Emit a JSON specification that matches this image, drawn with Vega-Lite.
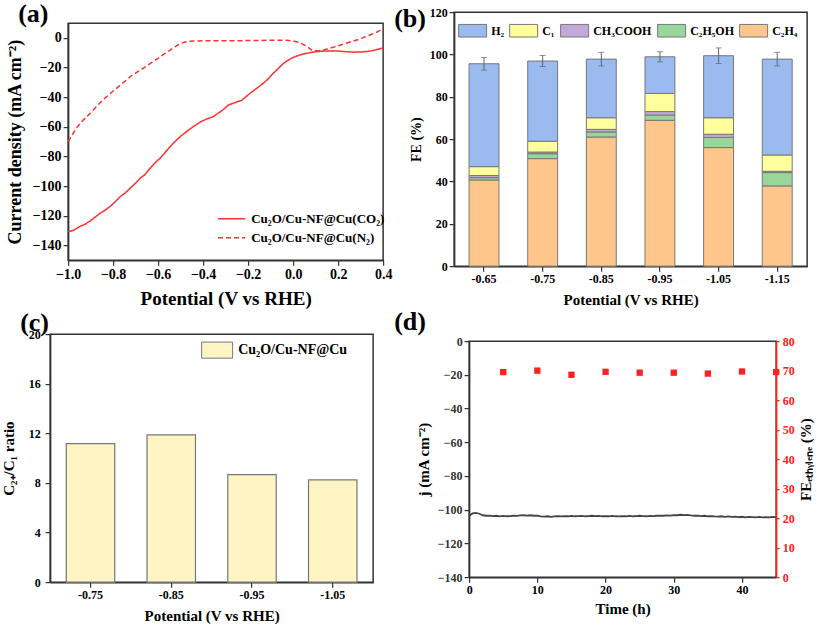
{
  "$schema": "https://vega.github.io/schema/vega-lite/v6.json",
  "background": "white",
  "padding": {"left": 0, "top": 0, "right": 0, "bottom": 0},
  "config": {
    "font": "Liberation Serif",
    "view": {"stroke": "#333", "strokeWidth": 1.5},
    "axis": {
      "labelFont": "Liberation Serif", "titleFont": "Liberation Serif",
      "labelFontWeight": "bold", "titleFontWeight": "bold",
      "labelColor": "#000", "titleColor": "#000",
      "domainColor": "#333", "domainWidth": 1.5, "tickColor": "#333", "tickWidth": 1.2,
      "tickSize": 5, "labelPadding": 2, "grid": false, "labelFlush": false
    },
    "legend": {"labelFont": "Liberation Serif", "labelFontWeight": "bold", "labelColor": "#000"},
    "title": {"font": "Liberation Serif", "fontWeight": "bold", "fontSize": 26, "anchor": "start", "frame": "group", "color": "#000"}
  },
  "spacing": -12,
  "center": true,
  "resolve": {"scale": {"color": "independent", "strokeDash": "independent"}, "legend": {"color": "independent", "strokeDash": "independent"}},
  "vconcat": [
    {
      "spacing": 0,
      "center": true,
      "resolve": {"scale": {"color": "independent", "strokeDash": "independent"}, "legend": {"color": "independent", "strokeDash": "independent"}},
      "hconcat": [
        {
          "width": 315, "height": 237,
          "title": {"text": "(a)", "dx": -50, "offset": -4},
          "data": {"values": [
            {"V": -1.0, "j": -130.8, "s": "Cu₂O/Cu-NF@Cu(CO₂)"},
            {"V": -0.975, "j": -129.8, "s": "Cu₂O/Cu-NF@Cu(CO₂)"},
            {"V": -0.947, "j": -127.2, "s": "Cu₂O/Cu-NF@Cu(CO₂)"},
            {"V": -0.925, "j": -125.8, "s": "Cu₂O/Cu-NF@Cu(CO₂)"},
            {"V": -0.902, "j": -123.6, "s": "Cu₂O/Cu-NF@Cu(CO₂)"},
            {"V": -0.88, "j": -121.0, "s": "Cu₂O/Cu-NF@Cu(CO₂)"},
            {"V": -0.858, "j": -118.4, "s": "Cu₂O/Cu-NF@Cu(CO₂)"},
            {"V": -0.835, "j": -116.2, "s": "Cu₂O/Cu-NF@Cu(CO₂)"},
            {"V": -0.813, "j": -113.7, "s": "Cu₂O/Cu-NF@Cu(CO₂)"},
            {"V": -0.79, "j": -110.5, "s": "Cu₂O/Cu-NF@Cu(CO₂)"},
            {"V": -0.769, "j": -107.2, "s": "Cu₂O/Cu-NF@Cu(CO₂)"},
            {"V": -0.745, "j": -104.5, "s": "Cu₂O/Cu-NF@Cu(CO₂)"},
            {"V": -0.724, "j": -101.4, "s": "Cu₂O/Cu-NF@Cu(CO₂)"},
            {"V": -0.7, "j": -98.0, "s": "Cu₂O/Cu-NF@Cu(CO₂)"},
            {"V": -0.68, "j": -94.7, "s": "Cu₂O/Cu-NF@Cu(CO₂)"},
            {"V": -0.66, "j": -92.5, "s": "Cu₂O/Cu-NF@Cu(CO₂)"},
            {"V": -0.636, "j": -88.0, "s": "Cu₂O/Cu-NF@Cu(CO₂)"},
            {"V": -0.615, "j": -84.5, "s": "Cu₂O/Cu-NF@Cu(CO₂)"},
            {"V": -0.591, "j": -81.2, "s": "Cu₂O/Cu-NF@Cu(CO₂)"},
            {"V": -0.57, "j": -77.5, "s": "Cu₂O/Cu-NF@Cu(CO₂)"},
            {"V": -0.547, "j": -73.4, "s": "Cu₂O/Cu-NF@Cu(CO₂)"},
            {"V": -0.525, "j": -70.0, "s": "Cu₂O/Cu-NF@Cu(CO₂)"},
            {"V": -0.502, "j": -66.6, "s": "Cu₂O/Cu-NF@Cu(CO₂)"},
            {"V": -0.47, "j": -62.8, "s": "Cu₂O/Cu-NF@Cu(CO₂)"},
            {"V": -0.444, "j": -59.9, "s": "Cu₂O/Cu-NF@Cu(CO₂)"},
            {"V": -0.41, "j": -56.5, "s": "Cu₂O/Cu-NF@Cu(CO₂)"},
            {"V": -0.38, "j": -54.5, "s": "Cu₂O/Cu-NF@Cu(CO₂)"},
            {"V": -0.356, "j": -53.2, "s": "Cu₂O/Cu-NF@Cu(CO₂)"},
            {"V": -0.33, "j": -50.5, "s": "Cu₂O/Cu-NF@Cu(CO₂)"},
            {"V": -0.311, "j": -48.5, "s": "Cu₂O/Cu-NF@Cu(CO₂)"},
            {"V": -0.29, "j": -45.5, "s": "Cu₂O/Cu-NF@Cu(CO₂)"},
            {"V": -0.271, "j": -44.3, "s": "Cu₂O/Cu-NF@Cu(CO₂)"},
            {"V": -0.25, "j": -43.3, "s": "Cu₂O/Cu-NF@Cu(CO₂)"},
            {"V": -0.227, "j": -41.9, "s": "Cu₂O/Cu-NF@Cu(CO₂)"},
            {"V": -0.2, "j": -38.5, "s": "Cu₂O/Cu-NF@Cu(CO₂)"},
            {"V": -0.182, "j": -36.3, "s": "Cu₂O/Cu-NF@Cu(CO₂)"},
            {"V": -0.16, "j": -33.8, "s": "Cu₂O/Cu-NF@Cu(CO₂)"},
            {"V": -0.133, "j": -30.7, "s": "Cu₂O/Cu-NF@Cu(CO₂)"},
            {"V": -0.11, "j": -27.5, "s": "Cu₂O/Cu-NF@Cu(CO₂)"},
            {"V": -0.089, "j": -24.0, "s": "Cu₂O/Cu-NF@Cu(CO₂)"},
            {"V": -0.065, "j": -20.5, "s": "Cu₂O/Cu-NF@Cu(CO₂)"},
            {"V": -0.044, "j": -17.3, "s": "Cu₂O/Cu-NF@Cu(CO₂)"},
            {"V": -0.02, "j": -14.8, "s": "Cu₂O/Cu-NF@Cu(CO₂)"},
            {"V": 0.0, "j": -13.2, "s": "Cu₂O/Cu-NF@Cu(CO₂)"},
            {"V": 0.03, "j": -11.5, "s": "Cu₂O/Cu-NF@Cu(CO₂)"},
            {"V": 0.062, "j": -10.3, "s": "Cu₂O/Cu-NF@Cu(CO₂)"},
            {"V": 0.1, "j": -9.3, "s": "Cu₂O/Cu-NF@Cu(CO₂)"},
            {"V": 0.133, "j": -8.9, "s": "Cu₂O/Cu-NF@Cu(CO₂)"},
            {"V": 0.17, "j": -8.8, "s": "Cu₂O/Cu-NF@Cu(CO₂)"},
            {"V": 0.2, "j": -8.9, "s": "Cu₂O/Cu-NF@Cu(CO₂)"},
            {"V": 0.235, "j": -9.3, "s": "Cu₂O/Cu-NF@Cu(CO₂)"},
            {"V": 0.267, "j": -9.6, "s": "Cu₂O/Cu-NF@Cu(CO₂)"},
            {"V": 0.3, "j": -9.5, "s": "Cu₂O/Cu-NF@Cu(CO₂)"},
            {"V": 0.342, "j": -8.9, "s": "Cu₂O/Cu-NF@Cu(CO₂)"},
            {"V": 0.37, "j": -8.0, "s": "Cu₂O/Cu-NF@Cu(CO₂)"},
            {"V": 0.4, "j": -6.8, "s": "Cu₂O/Cu-NF@Cu(CO₂)"},
            {"V": -1.0, "j": -70.0, "s": "Cu₂O/Cu-NF@Cu(N₂)"},
            {"V": -0.991, "j": -67.8, "s": "Cu₂O/Cu-NF@Cu(N₂)"},
            {"V": -0.97, "j": -62.5, "s": "Cu₂O/Cu-NF@Cu(N₂)"},
            {"V": -0.947, "j": -57.7, "s": "Cu₂O/Cu-NF@Cu(N₂)"},
            {"V": -0.925, "j": -54.3, "s": "Cu₂O/Cu-NF@Cu(N₂)"},
            {"V": -0.902, "j": -50.9, "s": "Cu₂O/Cu-NF@Cu(N₂)"},
            {"V": -0.88, "j": -47.3, "s": "Cu₂O/Cu-NF@Cu(N₂)"},
            {"V": -0.858, "j": -43.7, "s": "Cu₂O/Cu-NF@Cu(N₂)"},
            {"V": -0.835, "j": -40.5, "s": "Cu₂O/Cu-NF@Cu(N₂)"},
            {"V": -0.813, "j": -37.5, "s": "Cu₂O/Cu-NF@Cu(N₂)"},
            {"V": -0.79, "j": -34.6, "s": "Cu₂O/Cu-NF@Cu(N₂)"},
            {"V": -0.769, "j": -31.9, "s": "Cu₂O/Cu-NF@Cu(N₂)"},
            {"V": -0.745, "j": -28.9, "s": "Cu₂O/Cu-NF@Cu(N₂)"},
            {"V": -0.724, "j": -26.2, "s": "Cu₂O/Cu-NF@Cu(N₂)"},
            {"V": -0.7, "j": -23.8, "s": "Cu₂O/Cu-NF@Cu(N₂)"},
            {"V": -0.68, "j": -21.8, "s": "Cu₂O/Cu-NF@Cu(N₂)"},
            {"V": -0.657, "j": -19.5, "s": "Cu₂O/Cu-NF@Cu(N₂)"},
            {"V": -0.636, "j": -17.3, "s": "Cu₂O/Cu-NF@Cu(N₂)"},
            {"V": -0.613, "j": -15.0, "s": "Cu₂O/Cu-NF@Cu(N₂)"},
            {"V": -0.591, "j": -12.8, "s": "Cu₂O/Cu-NF@Cu(N₂)"},
            {"V": -0.57, "j": -10.5, "s": "Cu₂O/Cu-NF@Cu(N₂)"},
            {"V": -0.547, "j": -8.3, "s": "Cu₂O/Cu-NF@Cu(N₂)"},
            {"V": -0.525, "j": -6.0, "s": "Cu₂O/Cu-NF@Cu(N₂)"},
            {"V": -0.502, "j": -3.8, "s": "Cu₂O/Cu-NF@Cu(N₂)"},
            {"V": -0.48, "j": -2.8, "s": "Cu₂O/Cu-NF@Cu(N₂)"},
            {"V": -0.458, "j": -2.2, "s": "Cu₂O/Cu-NF@Cu(N₂)"},
            {"V": -0.4, "j": -1.9, "s": "Cu₂O/Cu-NF@Cu(N₂)"},
            {"V": -0.3, "j": -1.9, "s": "Cu₂O/Cu-NF@Cu(N₂)"},
            {"V": -0.2, "j": -1.8, "s": "Cu₂O/Cu-NF@Cu(N₂)"},
            {"V": -0.1, "j": -1.6, "s": "Cu₂O/Cu-NF@Cu(N₂)"},
            {"V": -0.058, "j": -1.5, "s": "Cu₂O/Cu-NF@Cu(N₂)"},
            {"V": -0.03, "j": -1.6, "s": "Cu₂O/Cu-NF@Cu(N₂)"},
            {"V": 0.0, "j": -2.0, "s": "Cu₂O/Cu-NF@Cu(N₂)"},
            {"V": 0.025, "j": -3.0, "s": "Cu₂O/Cu-NF@Cu(N₂)"},
            {"V": 0.044, "j": -4.3, "s": "Cu₂O/Cu-NF@Cu(N₂)"},
            {"V": 0.065, "j": -6.2, "s": "Cu₂O/Cu-NF@Cu(N₂)"},
            {"V": 0.084, "j": -8.3, "s": "Cu₂O/Cu-NF@Cu(N₂)"},
            {"V": 0.11, "j": -8.8, "s": "Cu₂O/Cu-NF@Cu(N₂)"},
            {"V": 0.133, "j": -8.3, "s": "Cu₂O/Cu-NF@Cu(N₂)"},
            {"V": 0.18, "j": -6.2, "s": "Cu₂O/Cu-NF@Cu(N₂)"},
            {"V": 0.24, "j": -3.4, "s": "Cu₂O/Cu-NF@Cu(N₂)"},
            {"V": 0.29, "j": -1.0, "s": "Cu₂O/Cu-NF@Cu(N₂)"},
            {"V": 0.329, "j": 1.2, "s": "Cu₂O/Cu-NF@Cu(N₂)"},
            {"V": 0.37, "j": 3.8, "s": "Cu₂O/Cu-NF@Cu(N₂)"},
            {"V": 0.4, "j": 6.3, "s": "Cu₂O/Cu-NF@Cu(N₂)"}
          ]},
          "mark": {"type": "line", "color": "#ff3030", "strokeWidth": 1.5},
          "encoding": {
            "x": {"field": "V", "type": "quantitative",
              "scale": {"domain": [-1.0, 0.4], "nice": false, "zero": false},
              "axis": {"values": [-1.0, -0.8, -0.6, -0.4, -0.2, 0.0, 0.2, 0.4], "format": ".1f",
                "title": "Potential (V vs RHE)", "labelFontSize": 14, "titleFontSize": 19, "titlePadding": 8}},
            "y": {"field": "j", "type": "quantitative",
              "scale": {"domain": [-150, 10], "nice": false, "zero": false},
              "axis": {"values": [-140, -120, -100, -80, -60, -40, -20, 0],
                "title": "Current density (mA cm⁻²)", "labelFontSize": 14, "titleFontSize": 18, "titlePadding": 8}},
            "strokeDash": {"field": "s", "type": "nominal",
              "scale": {"domain": ["Cu₂O/Cu-NF@Cu(CO₂)", "Cu₂O/Cu-NF@Cu(N₂)"], "range": [[1, 0], [5, 3]]},
              "legend": {"title": null, "orient": "none", "legendX": 152, "legendY": 184,
                "symbolType": "M-1.3,0H1.3", "symbolSize": 441, "symbolStrokeWidth": 1.5, "symbolStrokeColor": "#ff3030",
                "symbolFillColor": "transparent",
                "labelFontSize": 13, "rowPadding": 0, "labelOffset": 8}}
          }
        },
        {
          "width": 353, "height": 254,
          "title": {"text": "(b)", "dx": -60, "offset": -26},
          "layer": [
            {
              "data": {"values": [
                {"V": "-0.65", "p": "C₂H₄", "fe": 40.7}, {"V": "-0.65", "p": "C₂H₅OH", "fe": 1.1}, {"V": "-0.65", "p": "CH₃COOH", "fe": 1.0}, {"V": "-0.65", "p": "C₁", "fe": 4.2}, {"V": "-0.65", "p": "H₂", "fe": 48.6},
                {"V": "-0.75", "p": "C₂H₄", "fe": 50.8}, {"V": "-0.75", "p": "C₂H₅OH", "fe": 2.3}, {"V": "-0.75", "p": "CH₃COOH", "fe": 0.8}, {"V": "-0.75", "p": "C₁", "fe": 5.1}, {"V": "-0.75", "p": "H₂", "fe": 37.9},
                {"V": "-0.85", "p": "C₂H₄", "fe": 61.0}, {"V": "-0.85", "p": "C₂H₅OH", "fe": 2.4}, {"V": "-0.85", "p": "CH₃COOH", "fe": 1.2}, {"V": "-0.85", "p": "C₁", "fe": 5.5}, {"V": "-0.85", "p": "H₂", "fe": 27.7},
                {"V": "-0.95", "p": "C₂H₄", "fe": 68.9}, {"V": "-0.95", "p": "C₂H₅OH", "fe": 2.5}, {"V": "-0.95", "p": "CH₃COOH", "fe": 1.6}, {"V": "-0.95", "p": "C₁", "fe": 8.6}, {"V": "-0.95", "p": "H₂", "fe": 17.3},
                {"V": "-1.05", "p": "C₂H₄", "fe": 56.0}, {"V": "-1.05", "p": "C₂H₅OH", "fe": 4.8}, {"V": "-1.05", "p": "CH₃COOH", "fe": 1.5}, {"V": "-1.05", "p": "C₁", "fe": 7.8}, {"V": "-1.05", "p": "H₂", "fe": 29.3},
                {"V": "-1.15", "p": "C₂H₄", "fe": 37.9}, {"V": "-1.15", "p": "C₂H₅OH", "fe": 6.3}, {"V": "-1.15", "p": "CH₃COOH", "fe": 0.6}, {"V": "-1.15", "p": "C₁", "fe": 7.7}, {"V": "-1.15", "p": "H₂", "fe": 45.3}
              ]},
              "transform": [{"calculate": "indexof(['C₂H₄','C₂H₅OH','CH₃COOH','C₁','H₂'], datum.p)", "as": "k"}],
              "mark": {"type": "bar", "stroke": "#777", "strokeWidth": 1},
              "encoding": {
                "x": {"field": "V", "type": "ordinal", "sort": null,
                  "scale": {"paddingInner": 0.49, "paddingOuter": 0.255},
                  "axis": {"labelAngle": 0, "title": ["Potential (V vs RHE)", " "], "titleLineHeight": 12, "labelFontSize": 12, "titleFontSize": 15, "titlePadding": 8}},
                "y": {"field": "fe", "type": "quantitative", "stack": "zero",
                  "scale": {"domain": [0, 120], "nice": false},
                  "axis": {"values": [0, 20, 40, 60, 80, 100, 120], "title": "FE (%)", "labelFontSize": 12, "titleFontSize": 14, "titlePadding": 6}},
                "color": {"field": "p", "type": "nominal",
                  "scale": {"domain": ["H₂", "C₁", "CH₃COOH", "C₂H₅OH", "C₂H₄"],
                    "range": ["#9bbaf0", "#ffff9c", "#c3a9d9", "#99d69a", "#ffc68c"]},
                  "legend": {"title": null, "orient": "top-left", "offset": 4, "direction": "horizontal",
                    "columns": 5, "symbolType": "M-1,-0.45H1V0.45H-1Z", "symbolSize": 784,
                    "symbolStrokeColor": "#777", "symbolStrokeWidth": 1, "labelFontSize": 12,
                    "columnPadding": 3, "labelOffset": 4}},
                "order": {"field": "k", "type": "quantitative"}
              }
            },
            {
              "data": {"values": [
                {"V": "-0.65", "tot": 95.6, "err": 3.0},
                {"V": "-0.75", "tot": 96.9, "err": 2.6},
                {"V": "-0.85", "tot": 97.8, "err": 3.2},
                {"V": "-0.95", "tot": 98.9, "err": 2.4},
                {"V": "-1.05", "tot": 99.4, "err": 3.7},
                {"V": "-1.15", "tot": 97.8, "err": 3.2}
              ]},
              "mark": {"type": "errorbar", "ticks": {"size": 6}, "color": "#666"},
              "encoding": {
                "x": {"field": "V", "type": "ordinal", "sort": null},
                "y": {"field": "tot", "type": "quantitative", "axis": {"title": "FE (%)"}},
                "yError": {"field": "err"}
              }
            }
          ]
        }
      ]
    },
    {
      "spacing": 19,
      "center": true,
      "resolve": {"scale": {"color": "independent", "y": "independent"}, "legend": {"color": "independent"}},
      "hconcat": [
        {
          "width": 323, "height": 248,
          "title": {"text": "(c)", "dx": -30, "offset": -8},
          "data": {"values": [
            {"V": "-0.75", "r": 11.17, "s": "Cu₂O/Cu-NF@Cu"},
            {"V": "-0.85", "r": 11.87, "s": "Cu₂O/Cu-NF@Cu"},
            {"V": "-0.95", "r": 8.67, "s": "Cu₂O/Cu-NF@Cu"},
            {"V": "-1.05", "r": 8.24, "s": "Cu₂O/Cu-NF@Cu"}
          ]},
          "mark": {"type": "bar", "stroke": "#777", "strokeWidth": 1.2},
          "encoding": {
            "x": {"field": "V", "type": "ordinal", "sort": null,
              "scale": {"paddingInner": 0.4, "paddingOuter": 0.2},
              "axis": {"labelAngle": 0, "title": "Potential (V vs RHE)", "labelFontSize": 12, "titleFontSize": 15, "titlePadding": 8}},
            "y": {"field": "r", "type": "quantitative",
              "scale": {"domain": [0, 20], "nice": false},
              "axis": {"values": [0, 4, 8, 12, 16, 20], "title": "C₂₊/C₁ ratio", "labelFontSize": 12, "titleFontSize": 15, "titlePadding": 12, "labelPadding": 5}},
            "color": {"field": "s", "type": "nominal",
              "scale": {"domain": ["Cu₂O/Cu-NF@Cu"], "range": ["#fff4c4"]},
              "legend": {"title": null, "orient": "none", "legendX": 151, "legendY": 0,
                "symbolType": "M-1,-0.52H1V0.52H-1Z", "symbolSize": 961, "symbolStrokeColor": "#777",
                "symbolStrokeWidth": 1, "labelFontSize": 14, "labelOffset": 5}}
          }
        },
        {
          "width": 307, "height": 236,
          "title": {"text": "(d)", "dx": -75, "offset": 0},
          "layer": [
            {
              "data": {"values": [
                {"t": 0, "j": -103.6}, {"t": 0.5, "j": -102.2}, {"t": 1, "j": -101.9}, {"t": 1.5, "j": -102.4}, {"t": 2, "j": -103.3},
                {"t": 2.5, "j": -103.6}, {"t": 3, "j": -103.5}, {"t": 3.5, "j": -103.8}, {"t": 4, "j": -103.6}, {"t": 4.5, "j": -103.9},
                {"t": 5, "j": -103.7}, {"t": 5.5, "j": -103.9}, {"t": 6, "j": -103.8}, {"t": 6.5, "j": -103.6}, {"t": 7, "j": -103.7},
                {"t": 7.5, "j": -103.4}, {"t": 8, "j": -103.3}, {"t": 8.5, "j": -103.5}, {"t": 9, "j": -103.3}, {"t": 9.5, "j": -103.6},
                {"t": 10, "j": -103.5}, {"t": 10.5, "j": -103.9}, {"t": 11, "j": -104.1}, {"t": 11.5, "j": -103.9}, {"t": 12, "j": -104.2},
                {"t": 12.5, "j": -104.0}, {"t": 13, "j": -103.8}, {"t": 13.5, "j": -104.0}, {"t": 14, "j": -103.8}, {"t": 14.5, "j": -103.9},
                {"t": 15, "j": -103.7}, {"t": 15.5, "j": -103.9}, {"t": 16, "j": -103.8}, {"t": 16.5, "j": -103.7}, {"t": 17, "j": -103.9},
                {"t": 17.5, "j": -103.8}, {"t": 18, "j": -103.6}, {"t": 18.5, "j": -103.8}, {"t": 19, "j": -103.7}, {"t": 19.5, "j": -103.9},
                {"t": 20, "j": -103.8}, {"t": 20.5, "j": -103.9}, {"t": 21, "j": -103.7}, {"t": 21.5, "j": -103.9}, {"t": 22, "j": -104.0},
                {"t": 22.5, "j": -103.8}, {"t": 23, "j": -103.9}, {"t": 23.5, "j": -103.7}, {"t": 24, "j": -103.9}, {"t": 24.5, "j": -103.8},
                {"t": 25, "j": -103.6}, {"t": 25.5, "j": -103.8}, {"t": 26, "j": -103.9}, {"t": 26.5, "j": -103.7}, {"t": 27, "j": -103.8},
                {"t": 27.5, "j": -103.6}, {"t": 28, "j": -103.5}, {"t": 28.5, "j": -103.6}, {"t": 29, "j": -103.4}, {"t": 29.5, "j": -103.5},
                {"t": 30, "j": -103.2}, {"t": 30.5, "j": -103.3}, {"t": 31, "j": -103.0}, {"t": 31.5, "j": -103.2}, {"t": 32, "j": -103.1},
                {"t": 32.5, "j": -103.4}, {"t": 33, "j": -103.6}, {"t": 33.5, "j": -103.5}, {"t": 34, "j": -103.8}, {"t": 34.5, "j": -103.6},
                {"t": 35, "j": -103.9}, {"t": 35.5, "j": -103.8}, {"t": 36, "j": -104.0}, {"t": 36.5, "j": -104.1}, {"t": 37, "j": -103.9},
                {"t": 37.5, "j": -104.2}, {"t": 38, "j": -104.0}, {"t": 38.5, "j": -104.3}, {"t": 39, "j": -104.1}, {"t": 39.5, "j": -104.4},
                {"t": 40, "j": -104.2}, {"t": 40.5, "j": -104.5}, {"t": 41, "j": -104.3}, {"t": 41.5, "j": -104.4}, {"t": 42, "j": -104.6},
                {"t": 42.5, "j": -104.3}, {"t": 43, "j": -104.5}, {"t": 43.5, "j": -104.4}, {"t": 44, "j": -104.6}, {"t": 44.5, "j": -104.3},
                {"t": 45, "j": -104.5}
              ]},
              "mark": {"type": "line", "color": "#444", "strokeWidth": 1.8},
              "encoding": {
                "x": {"field": "t", "type": "quantitative",
                  "scale": {"domain": [0, 45], "nice": false},
                  "axis": {"values": [0, 5, 10, 15, 20, 25, 30, 35, 40, 45], "title": "Time (h)", "labelFontSize": 12, "titleFontSize": 15, "titlePadding": 6}},
                "y": {"field": "j", "type": "quantitative",
                  "scale": {"domain": [-140, 0], "nice": false, "zero": false},
                  "axis": {"values": [-140, -120, -100, -80, -60, -40, -20, 0], "title": "j (mA cm⁻²)", "labelFontSize": 12, "titleFontSize": 15, "titlePadding": 6, "labelColor": "#333"}}
              }
            },
            {
              "data": {"values": [
                {"t": 5, "fe": 69.5}, {"t": 10, "fe": 70.0}, {"t": 15, "fe": 68.6}, {"t": 20, "fe": 69.6}, {"t": 25, "fe": 69.3},
                {"t": 30, "fe": 69.3}, {"t": 35, "fe": 69.0}, {"t": 40, "fe": 69.7}, {"t": 45, "fe": 69.5}
              ]},
              "mark": {"type": "square", "color": "#ff2020", "size": 40, "opacity": 1},
              "encoding": {
                "x": {"field": "t", "type": "quantitative"},
                "y": {"field": "fe", "type": "quantitative",
                  "scale": {"domain": [0, 80], "nice": false},
                  "axis": {"orient": "right", "values": [0, 10, 20, 30, 40, 50, 60, 70, 80],
                    "title": ["FEₑₜₕᵧₗₑₙₑ (%)", " "], "titleAngle": 270, "titleBaseline": "top", "titleLineHeight": 12,
                    "labelFontSize": 12, "titleFontSize": 15, "titlePadding": -8, "labelPadding": 3, "tickSize": 3,
                    "labelColor": "#ff2020", "titleColor": "#000", "domainColor": "#ff2020", "tickColor": "#ff2020"}}
              }
            }
          ],
          "resolve": {"scale": {"y": "independent"}}
        }
      ]
    }
  ]
}
